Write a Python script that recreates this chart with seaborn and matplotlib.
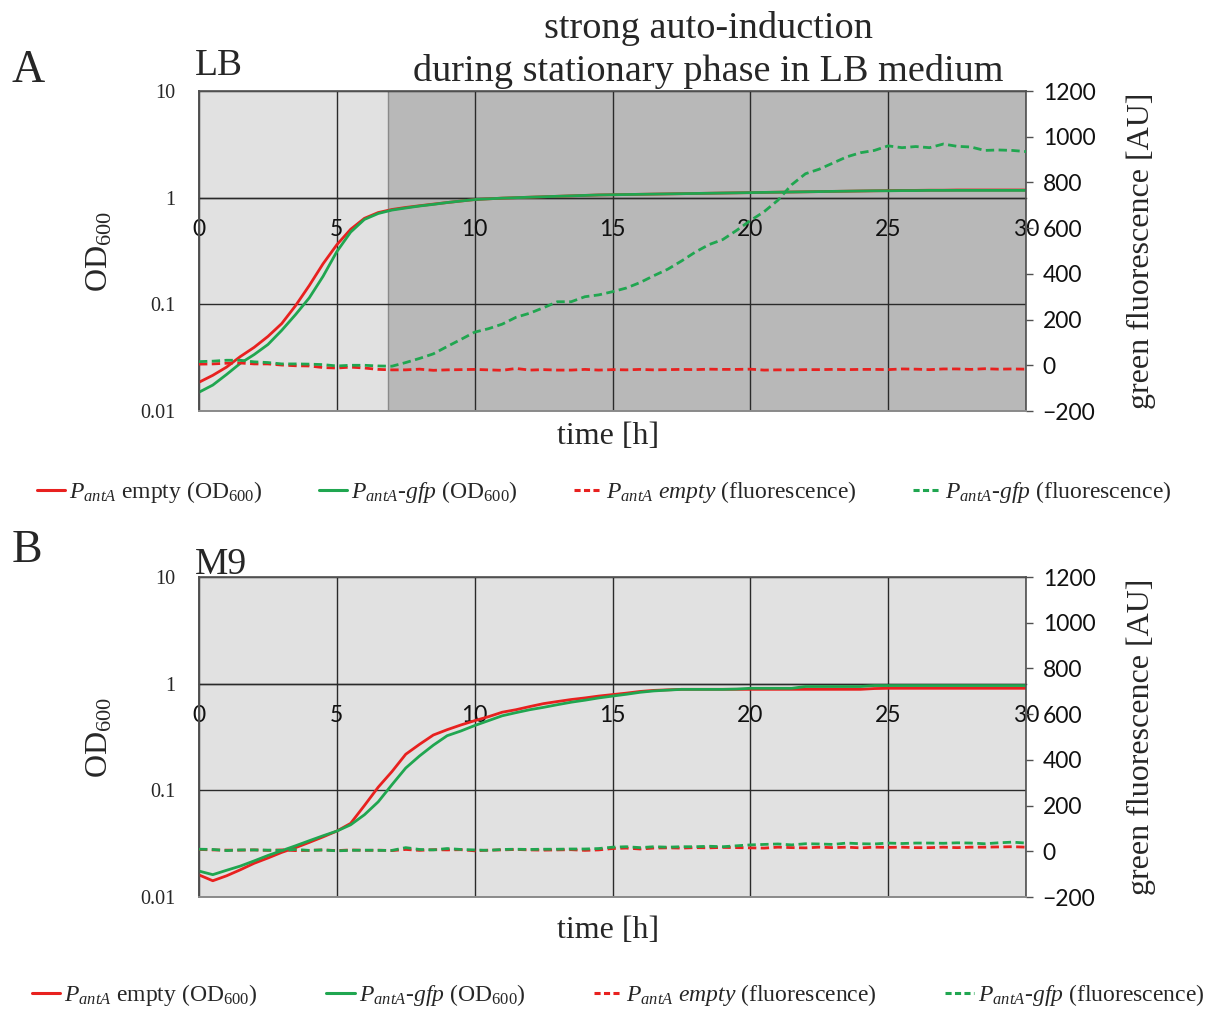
import numpy as np
import pandas as pd
import matplotlib
matplotlib.use("Agg")
import matplotlib.pyplot as plt
from matplotlib.lines import Line2D
from matplotlib.ticker import FixedLocator, NullLocator, FixedFormatter
import seaborn as sns

sns.set_style("white")
plt.rcParams["font.family"] = ["Liberation Serif", "DejaVu Serif"]
plt.rcParams["mathtext.fontset"] = "custom"
plt.rcParams["mathtext.rm"] = "Liberation Serif"
plt.rcParams["mathtext.it"] = "Liberation Serif:italic"
plt.rcParams["mathtext.bf"] = "Liberation Serif:bold"

# sampling times (h)
time_h = np.arange(0, 30.01, 0.5)

# ---- LB medium ----
lb_od_empty = [
    0.0186, 0.0216, 0.0258, 0.0324, 0.0395, 0.050, 0.066, 0.097, 0.150, 0.240,
    0.362, 0.505, 0.640, 0.725, 0.775, 0.810, 0.840, 0.870, 0.900, 0.930,
    0.960, 0.975, 0.990, 1.000, 1.010, 1.020, 1.030, 1.040, 1.050, 1.060,
    1.065, 1.070, 1.075, 1.080, 1.085, 1.090, 1.095, 1.100, 1.105, 1.110,
    1.115, 1.120, 1.125, 1.130, 1.135, 1.140, 1.145, 1.150, 1.155, 1.160,
    1.165, 1.170, 1.170, 1.175, 1.175, 1.180, 1.180, 1.180, 1.180, 1.180,
    1.180,
]
lb_od_gfp = [
    0.0150, 0.0175, 0.0220, 0.0280, 0.0338, 0.042, 0.057, 0.080, 0.115, 0.183,
    0.312, 0.475, 0.625, 0.710, 0.765, 0.800, 0.835, 0.865, 0.900, 0.930,
    0.960, 0.975, 0.990, 1.000, 1.010, 1.020, 1.030, 1.040, 1.050, 1.060,
    1.065, 1.070, 1.075, 1.080, 1.085, 1.090, 1.095, 1.100, 1.105, 1.110,
    1.115, 1.120, 1.125, 1.130, 1.135, 1.140, 1.145, 1.150, 1.155, 1.160,
    1.160, 1.165, 1.165, 1.170, 1.170, 1.170, 1.170, 1.170, 1.170, 1.170,
    1.170,
]
lb_fl_empty = [
    5, 6, 9, 10, 6, 6, 1, -2, -3, -10,
    -12, -8, -12, -18, -20, -20, -17, -22, -20, -19,
    -18, -20, -22, -14, -21, -19, -21, -21, -18, -21,
    -19, -20, -18, -20, -19, -18, -19, -17, -18, -18,
    -17, -21, -20, -20, -19, -19, -18, -19, -18, -18,
    -19, -16, -17, -19, -16, -16, -18, -15, -17, -16,
    -17,
]
lb_fl_gfp = [
    16, 18, 22, 22, 15, 12, 6, 6, 5, 3,
    -3, 0, 0, -3, -4, 12, 30, 50, 82, 113,
    145, 160, 180, 210, 228, 252, 278, 278, 300, 308,
    322, 338, 362, 392, 420, 456, 495, 528, 550, 590,
    633, 672, 722, 790, 838, 858, 885, 912, 930, 940,
    960, 952, 957, 952, 968, 958, 955, 940, 942, 940,
    935,
]
lb_stationary_start = 6.85  # h, start of the darker stationary-phase band

# ---- M9 medium ----
m9_od_empty = [
    0.0161, 0.0142, 0.0158, 0.0180, 0.0207, 0.0232, 0.0262, 0.0290, 0.0325, 0.0366,
    0.0415, 0.0490, 0.072, 0.107, 0.150, 0.218, 0.270, 0.330, 0.370, 0.410,
    0.450, 0.490, 0.540, 0.570, 0.610, 0.650, 0.680, 0.710, 0.735, 0.765,
    0.790, 0.815, 0.845, 0.865, 0.875, 0.885, 0.885, 0.885, 0.885, 0.885,
    0.885, 0.885, 0.885, 0.885, 0.885, 0.885, 0.885, 0.885, 0.885, 0.900,
    0.905, 0.905, 0.905, 0.905, 0.905, 0.905, 0.905, 0.905, 0.905, 0.905,
    0.905,
]
m9_od_gfp = [
    0.0175, 0.0162, 0.0178, 0.0195, 0.0218, 0.0245, 0.0272, 0.0302, 0.0337, 0.0375,
    0.0415, 0.0475, 0.059, 0.078, 0.113, 0.162, 0.210, 0.265, 0.325, 0.360,
    0.405, 0.450, 0.500, 0.535, 0.570, 0.600, 0.635, 0.670, 0.700, 0.735,
    0.765, 0.795, 0.830, 0.855, 0.870, 0.884, 0.884, 0.884, 0.884, 0.890,
    0.905, 0.905, 0.905, 0.905, 0.940, 0.940, 0.940, 0.940, 0.940, 0.960,
    0.960, 0.960, 0.960, 0.960, 0.960, 0.960, 0.960, 0.960, 0.960, 0.960,
    0.960,
]
m9_fl_empty = [
    8, 6, 5, 5, 6, 4, 6, 3, 4, 6,
    3, 6, 4, 5, 3, 8, 4, 7, 6, 7,
    2, 5, 6, 8, 6, 5, 6, 7, 4, 6,
    12, 14, 10, 14, 15, 14, 16, 15, 17, 16,
    15, 14, 18, 16, 15, 18, 16, 18, 15, 18,
    17, 18, 16, 16, 18, 16, 18, 18, 19, 20,
    18,
]
m9_fl_gfp = [
    9, 8, 3, 6, 6, 5, 4, 8, 4, 6,
    2, 4, 5, 4, 4, 16, 8, 6, 12, 8,
    6, 4, 8, 9, 8, 9, 9, 10, 10, 12,
    18, 20, 16, 20, 18, 20, 20, 22, 20, 24,
    28, 30, 32, 28, 33, 32, 30, 36, 33, 32,
    36, 34, 36, 36, 35, 37, 36, 33, 37, 40,
    36,
]

x_ticks = [0, 5, 10, 15, 20, 25, 30]
od_ticks = [0.01, 0.1, 1, 10]
od_tick_labels = ["0.01", "0.1", "1", "10"]
fl_ticks = [-200, 0, 200, 400, 600, 800, 1000, 1200]

RED = "#e8211f"
GREEN = "#20a650"
LIGHT_BG = "#e1e1e1"
DARK_BG = "#b8b8b8"
GRID = "#2a2a2a"
SANS = "Lato"

W, H = 1215, 1009
fig = plt.figure(figsize=(W / 100, H / 100), dpi=100)


def px_box(left, top, right, bottom):
    return [left / W, 1 - bottom / H, (right - left) / W, (bottom - top) / H]


def panel(box, od_empty, od_gfp, fl_empty, fl_gfp, dark_from=None):
    ax = fig.add_axes(box)
    ax.set_facecolor(LIGHT_BG)
    if dark_from is not None:
        ax.axvspan(dark_from, 30, color=DARK_BG, lw=0, zorder=0)
        ax.axvline(dark_from, color="#8a8a8a", lw=1.0, zorder=0.2)
    ax.set_yscale("log")
    ax.set_xlim(0, 30)
    ax.set_ylim(0.01, 10)

    df = pd.DataFrame({"t": time_h, "empty": od_empty, "gfp": od_gfp})
    sns.lineplot(data=df, x="t", y="empty", ax=ax, color=RED, lw=2.0, zorder=3)
    sns.lineplot(data=df, x="t", y="gfp", ax=ax, color=GREEN, lw=2.0, zorder=3)

    ax.yaxis.set_major_locator(FixedLocator(od_ticks))
    ax.yaxis.set_major_formatter(FixedFormatter(od_tick_labels))
    ax.yaxis.set_minor_locator(NullLocator())
    ax.xaxis.set_major_locator(FixedLocator(x_ticks))
    ax.tick_params(axis="y", length=0, pad=17, labelsize=14.5)
    ax.tick_params(axis="x", length=0, pad=15, labelsize=16.5,
                   labelfontfamily=SANS, labelcolor="#111111")
    ax.grid(True, axis="both", color=GRID, lw=1.0)
    ax.set_axisbelow(True)
    ax.set_xlabel("")
    ax.set_ylabel("")
    # the category axis crosses the value axis at OD = 1
    ax.spines["bottom"].set_position(("data", 1))
    ax.spines["bottom"].set_color(GRID)
    ax.spines["bottom"].set_linewidth(1.0)
    for s in ("left", "top"):
        ax.spines[s].set_color("#505050")
        ax.spines[s].set_linewidth(1.2)
    ax.spines["right"].set_visible(False)

    ax2 = ax.twinx()
    dff = pd.DataFrame({"t": time_h, "empty": fl_empty, "gfp": fl_gfp})
    sns.lineplot(data=dff, x="t", y="empty", ax=ax2, color=RED, lw=2.0,
                 linestyle=(0, (3, 1.6)), zorder=3)
    sns.lineplot(data=dff, x="t", y="gfp", ax=ax2, color=GREEN, lw=2.0,
                 linestyle=(0, (3, 1.6)), zorder=3)
    ax2.set_ylim(-200, 1200)
    ax2.yaxis.set_major_locator(FixedLocator(fl_ticks))
    ax2.yaxis.set_minor_locator(NullLocator())
    ax2.tick_params(axis="y", length=5, width=1.0, color="#505050",
                    pad=7, labelsize=16.5, right=True, direction="out",
                    labelfontfamily=SANS, labelcolor="#111111")
    ax2.set_ylabel("")
    ax2.set_xlabel("")
    ax2.grid(False)
    ax2.spines["bottom"].set_color("#8a8a8a")
    ax2.spines["bottom"].set_linewidth(1.4)
    ax2.spines["right"].set_color("#505050")
    ax2.spines["right"].set_linewidth(1.2)
    ax2.spines["top"].set_color("#505050")
    ax2.spines["left"].set_color("#505050")
    ax2.spines["left"].set_linewidth(1.2)
    return ax, ax2


def add_texts(top_px, time_y_px):
    mid = (top_px + top_px + 320) / 2
    fig.text(100 / W, 1 - mid / H, "OD$_{600}$", rotation=90, ha="center",
             va="center", fontsize=23)
    fig.text(1141 / W, 1 - mid / H, "green fluorescence [AU]", rotation=90,
             ha="center", va="center", fontsize=23)
    fig.text(608 / W, 1 - time_y_px / H, "time [h]", ha="center", va="center",
             fontsize=23)


def add_legend(y_px, x_px, spacing):
    dash = (0, (2.0, 1.1))
    handles = [
        Line2D([], [], color=RED, lw=2.2),
        Line2D([], [], color=GREEN, lw=2.2),
        Line2D([], [], color=RED, lw=2.2, linestyle=dash),
        Line2D([], [], color=GREEN, lw=2.2, linestyle=dash),
    ]
    labels = [
        r"$P_{antA}$ empty (OD$_{600}$)",
        r"$P_{antA}$-$gfp$ (OD$_{600}$)",
        r"$P_{antA}$ $empty$ (fluorescence)",
        r"$P_{antA}$-$gfp$ (fluorescence)",
    ]
    fig.legend(handles, labels, ncol=4, loc="center",
               bbox_to_anchor=(x_px / W, 1 - y_px / H), frameon=False,
               fontsize=17, handlelength=1.2, handletextpad=0.17,
               columnspacing=spacing, borderaxespad=0, borderpad=0)


# Panel A: LB
panel(px_box(199, 91, 1026, 411), lb_od_empty, lb_od_gfp, lb_fl_empty, lb_fl_gfp,
      dark_from=lb_stationary_start)
add_texts(91, 437)
fig.text(12 / W, 1 - 82 / H, "A", fontsize=33, va="baseline", ha="left")
fig.text(195 / W, 1 - 75 / H, "LB", fontsize=27, va="baseline", ha="left")
fig.text(708 / W, 1 - 50 / H,
         "strong auto-induction\nduring stationary phase in LB medium",
         ha="center", va="center", fontsize=27.5, linespacing=1.3)
add_legend(492, 604, 2.37)

# Panel B: M9
panel(px_box(199, 577, 1026, 897), m9_od_empty, m9_od_gfp, m9_fl_empty, m9_fl_gfp)
add_texts(577, 930)
fig.text(12 / W, 1 - 562 / H, "B", fontsize=33, va="baseline", ha="left")
fig.text(195 / W, 1 - 574 / H, "M9", fontsize=27, va="baseline", ha="left")
add_legend(995, 618, 2.9)

fig.savefig("out.png", dpi=100, facecolor="white")
